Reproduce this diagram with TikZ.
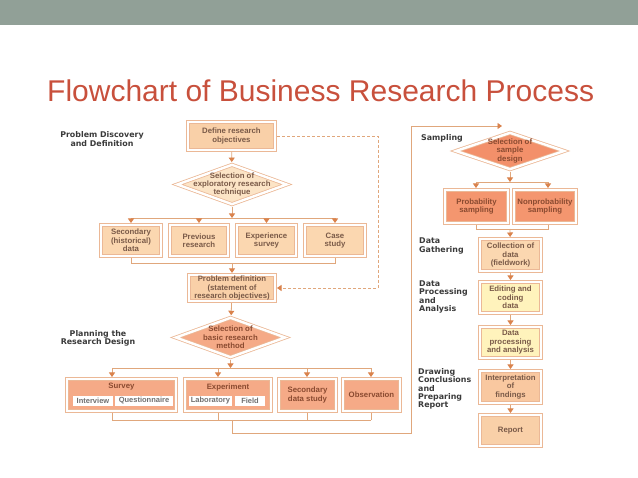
\documentclass[tikz,border=0pt]{standalone}
\usepackage{fontspec}
\setmainfont{Liberation Sans}
\setsansfont{Liberation Sans}
\newfontfamily\labelfont{DejaVu Sans}
\usetikzlibrary{shapes.geometric,arrows.meta}

\definecolor{bar}{HTML}{91A097}
\definecolor{titlered}{HTML}{C8503C}
\definecolor{edge}{HTML}{EBB896}
\definecolor{conn}{HTML}{E0A77C}
\definecolor{tip}{HTML}{D9824C}
\definecolor{boxtext}{HTML}{7A5A48}
\definecolor{darktext}{HTML}{8A4A30}
\definecolor{subtext}{HTML}{707070}
\definecolor{lbltext}{HTML}{3A3A3A}
\definecolor{peach}{HTML}{F9D0A8}
\definecolor{peachlight}{HTML}{FBD7B0}
\definecolor{pale}{HTML}{FCE4C6}
\definecolor{salmon}{HTML}{F5AA87}
\definecolor{deep}{HTML}{F3906A}
\definecolor{deepbox}{HTML}{F4966F}
\definecolor{yellow}{HTML}{FFF3BC}
\definecolor{interp}{HTML}{F9C8A0}

\tikzset{
  wh/.style 2 args={minimum width={#1pt-4pt}, minimum height={#2pt-4pt}},
  box/.style={rectangle, draw=edge, double=white, double distance=2.4pt, line width=0.8pt,
    outer sep=2pt, inner sep=1pt, align=center, text=boxtext,
    font=\sffamily\bfseries\fontsize{7.8}{8.4}\selectfont},
  dia/.style={diamond, draw=edge, double=white, double distance=2.4pt, line width=0.8pt,
    inner sep=0pt, outer sep=2pt},
  txt/.style={align=center, text=boxtext, inner sep=0pt,
    font=\sffamily\bfseries\fontsize{7.8}{8.4}\selectfont},
  sub/.style={rectangle, fill=white, inner sep=0pt, minimum height=10.5pt, text=subtext,
    font=\sffamily\bfseries\fontsize{7.5}{8}\selectfont},
  lbl/.style={align=center, text=lbltext, inner sep=0pt,
    font=\labelfont\bfseries\fontsize{7.9}{8.4}\selectfont},
  line/.style={draw=conn, line width=0.8pt},
  arr/.style={line, -{Triangle[width=6pt,length=4.5pt,color=tip]}},
}

\begin{document}
\begin{tikzpicture}[x=1pt,y=-1pt]
\useasboundingbox (0,0) rectangle (638,478);
\fill[bar] (0,0) rectangle (638,25);
\node[anchor=base west, inner sep=0pt, text=titlered, font=\sffamily\fontsize{30}{36}\selectfont]
  (title) at (47,102) {Flowchart of Business Research Process};

\node[lbl] (lbldisc) at (102,139) {Problem Discovery\\and Definition};
\node[lbl] (lblplan) at (98,338.5) {Planning the\\Research Design};
\node[lbl, anchor=west] (lblsamp) at (421,138) {Sampling};
\node[lbl, anchor=west, align=left] (lblgath) at (419,246) {Data\\Gathering};
\node[lbl, anchor=west, align=left] (lblproc) at (419,297) {Data\\Processing\\and\\Analysis};
\node[lbl, anchor=west, align=left] (lbldraw) at (418,389) {Drawing\\Conclusions\\and\\Preparing\\Report};

\node[box, fill=peach, wh={91}{32}] (define) at (231.5,136) {Define research\\objectives};
\node[dia, fill=pale, wh={115}{45}] (explore) at (232,184.5) {};
\node[txt] (exploretext) at (explore) {Selection of\\exploratory research\\technique};

\node[box, fill=peachlight, wh={64}{35}] (secondary) at (131,240.5) {Secondary\\(historical)\\data};
\node[box, fill=peachlight, wh={62}{35}] (previous) at (199,240.5) {Previous\\research};
\node[box, fill=peachlight, wh={63}{35}] (expsurvey) at (266.5,240.5) {Experience\\survey};
\node[box, fill=peachlight, wh={64}{35}] (case) at (335,240.5) {Case\\study};

\node[box, fill=peach, wh={90}{30}] (probdef) at (232,288) {Problem definition\\(statement of\\research objectives)};
\node[dia, fill=salmon, wh={115}{45}] (method) at (230.5,337.5) {};
\node[txt, text=darktext] (methodtext) at (method) {Selection of\\basic research\\method};

\node[box, fill=salmon, wh={113}{36}] (survey) at (121.5,395) {};
\node[txt, text=darktext] (surveytext) at (121.5,387) {Survey};
\node[sub, minimum width=40pt] (interview) at (93,401) {Interview};
\node[sub, minimum width=58pt] (quest) at (144,401) {Questionnaire};
\node[box, fill=salmon, wh={90}{36}] (experiment) at (228,395) {};
\node[txt, text=darktext] (experimenttext) at (228,387) {Experiment};
\node[sub, minimum width=43pt] (lab) at (210.5,401) {Laboratory};
\node[sub, minimum width=30pt] (field) at (250,401) {Field};
\node[box, fill=salmon, text=darktext, wh={61}{36}] (secdata) at (307.5,395) {Secondary\\data study};
\node[box, fill=salmon, text=darktext, wh={61}{36}] (observ) at (371.5,395) {Observation};

\node[dia, fill=deep, wh={114}{42}] (sample) at (510,151) {};
\node[txt, text=darktext] (sampletext) at (sample) {Selection of\\sample\\design};
\node[box, fill=deepbox, text=darktext, wh={67}{37}] (prob) at (476.5,206.5) {Probability\\sampling};
\node[box, fill=deepbox, text=darktext, wh={66}{37}] (nonprob) at (545,206.5) {Nonprobability\\sampling};
\node[box, fill=peachlight, wh={65}{36}] (collect) at (510.5,255) {Collection of\\data\\(fieldwork)};
\node[box, fill=yellow, wh={65}{35}] (edit) at (510.5,297.5) {Editing and\\coding\\data};
\node[box, fill=yellow, wh={65}{35}] (dproc) at (510.5,342.5) {Data\\processing\\and analysis};
\node[box, fill=interp, wh={65}{36}] (interpret) at (510.5,387) {Interpretation\\of\\findings};
\node[box, fill=peach, wh={65}{35}] (report) at (510.5,430.5) {Report};

\coordinate (bus1) at (232,218);
\coordinate (brk1) at (232,263);
\draw[arr] (define) -- (explore);
\draw[arr] (explore) -- (bus1);
\draw[line] (secondary.north |- bus1) -- (case.north |- bus1);
\foreach \n in {secondary,previous,expsurvey,case}
  \draw[arr] (\n.north |- bus1) -- (\n.north);
\draw[line] (secondary.south) |- (case.south |- brk1) -- (case.south);
\draw[arr] (brk1) -- (probdef);

\coordinate (dashturn) at (378,288);
\draw[arr, dashed, dash pattern=on 3pt off 2pt] (define.east) -| (dashturn) -- (probdef.east);
\draw[arr] (probdef) -- (method);

\coordinate (bus2) at (230.5,368);
\foreach \n/\x in {survey/112,experiment/218,secdata/307,observ/371}{
  \coordinate (\n-top) at (\x,368);
  \coordinate (\n-bot) at (\x,420);
}
\draw[arr] (method) -- (bus2);
\draw[line] (survey-top) -- (observ-top);
\draw[line] (survey-bot) -- (observ-bot);
\foreach \n in {survey,experiment,secdata,observ}{
  \draw[arr] (\n-top) -- (\n-top |- \n.north);
  \draw[line] (\n-bot |- \n.south) -- (\n-bot);
}

\coordinate (loopstart) at (232,420);
\coordinate (loopcorner) at (411,433);
\coordinate (looptop) at (411,126);
\coordinate (loopend) at (502,126);
\draw[arr] (loopstart) |- (loopcorner) -- (looptop) -- (loopend);

\coordinate (bus3) at (510,182);
\coordinate (probtop) at (476,182);
\coordinate (nonprobtop) at (548,182);
\coordinate (brk3) at (510,229);
\draw[arr] (sample) -- (bus3);
\draw[line] (probtop) -- (nonprobtop);
\draw[arr] (probtop) -- (probtop |- prob.north);
\draw[arr] (nonprobtop) -- (nonprobtop |- nonprob.north);
\draw[line] (prob.south) |- (nonprobtop |- brk3) -- (nonprobtop |- nonprob.south);
\draw[arr] (brk3) -- (collect);

\foreach \a/\b in {collect/edit,edit/dproc,dproc/interpret,interpret/report}
  \draw[arr] (\a) -- (\b);
\end{tikzpicture}
\end{document}
